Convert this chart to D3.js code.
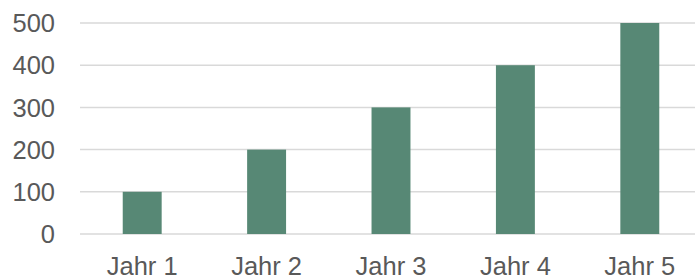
<!DOCTYPE html>
<html><head><meta charset="utf-8">
<script src="https://cdn.jsdelivr.net/npm/d3@7"></script>
<style>html,body{margin:0;padding:0;background:#fff;overflow:hidden}</style>
</head><body>
<script>
const categories = ["Jahr 1","Jahr 2","Jahr 3","Jahr 4","Jahr 5"];
const values = [100,200,300,400,500];
const yTicks = [0,100,200,300,400,500];

const W = 695, H = 280;
const svg = d3.select("body").append("svg").attr("width", W).attr("height", H);
const x = d3.scaleBand().domain(categories).range([80, 702]).paddingInner(0.687).paddingOuter(0.3435);
const y = d3.scaleLinear().domain([0, 500]).range([234, 23]);
const font = "'Liberation Sans', Arial, Helvetica, sans-serif";

svg.append("g").selectAll("line").data(yTicks).join("line")
  .attr("x1", 80).attr("x2", 702)
  .attr("y1", d => y(d)).attr("y2", d => y(d))
  .attr("stroke", "#d9d9d9").attr("stroke-width", 1.5);

svg.append("g").selectAll("text").data(yTicks).join("text")
  .attr("x", 55).attr("y", d => y(d)).attr("dy", "0.36em")
  .attr("text-anchor", "end").attr("font-family", font).attr("font-size", 25.5)
  .attr("fill", "#595959").text(d => d);

svg.append("g").selectAll("rect").data(values).join("rect")
  .attr("x", (d, i) => x(categories[i])).attr("width", x.bandwidth())
  .attr("y", d => y(d)).attr("height", d => y(0) - y(d))
  .attr("fill", "#578875");

svg.append("g").selectAll("text").data(categories).join("text")
  .attr("x", d => x(d) + x.bandwidth() / 2).attr("y", 275)
  .attr("text-anchor", "middle").attr("font-family", font).attr("font-size", 25.5)
  .attr("fill", "#595959").text(d => d);
</script>
</body></html>
